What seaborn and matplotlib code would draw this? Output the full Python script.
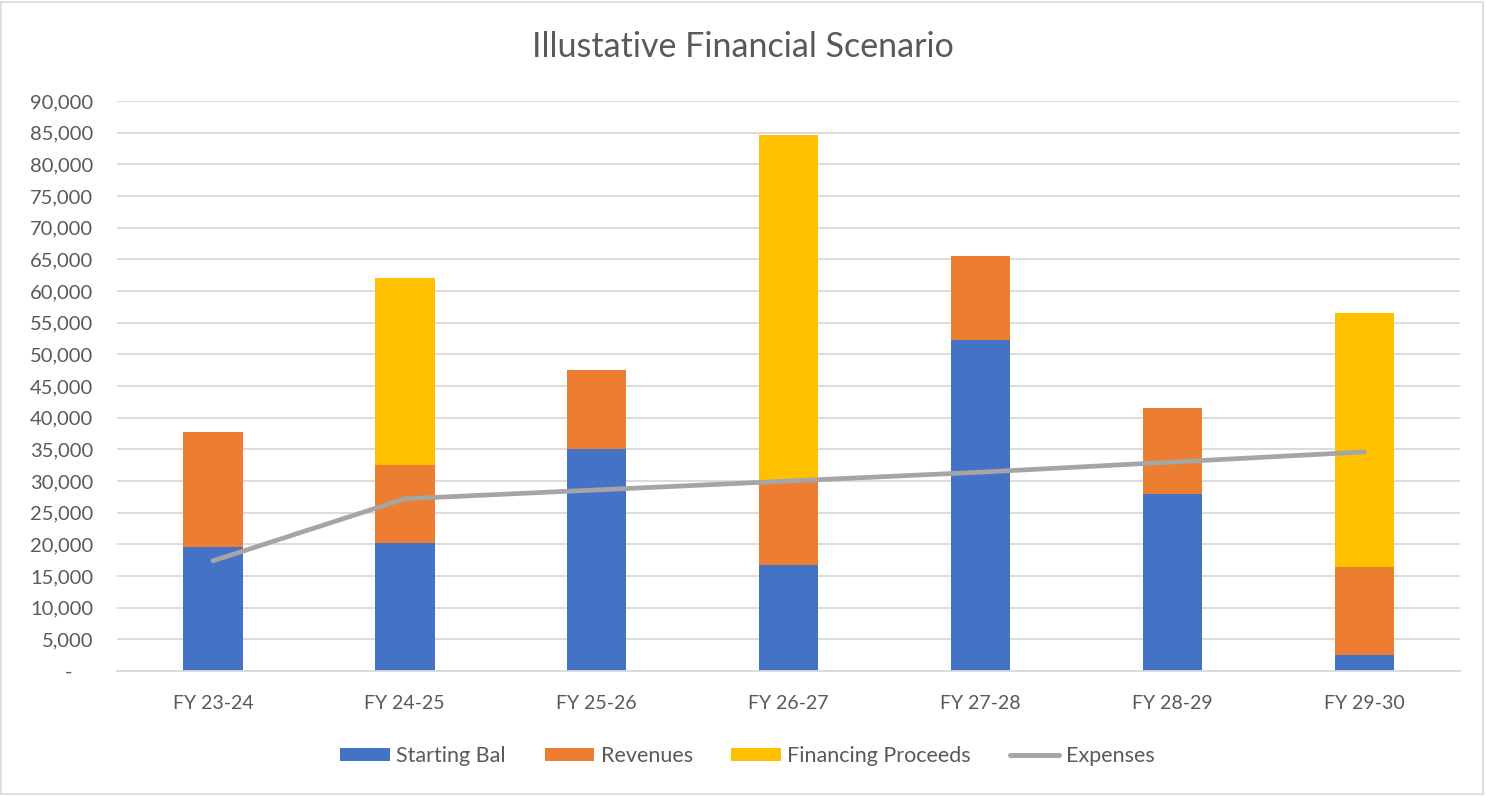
import matplotlib
matplotlib.use("Agg")
import matplotlib.pyplot as plt
import matplotlib.ticker as mticker
from matplotlib.patches import Patch
from matplotlib.lines import Line2D
import numpy as np
import seaborn as sns

# Fiscal years and stacked components
years = ["FY 23-24", "FY 24-25", "FY 25-26", "FY 26-27", "FY 27-28", "FY 28-29", "FY 29-30"]
starting_bal = [19600, 20200, 35000, 16700, 52300, 28000, 2500]
revenues = [18200, 12400, 12600, 13400, 13300, 13600, 14000]
financing = [0, 29500, 0, 54600, 0, 0, 40100]
expenses = [17400, 27200, 28600, 30000, 31400, 33000, 34600]

series_names = ["Starting Bal", "Revenues", "Financing Proceeds", "Expenses"]
colors = ["#4472C4", "#ED7D31", "#FFC000", "#A5A5A5"]
text_color = "#595959"
grid_color = "#D9D9D9"

sns.set_theme(style="white")
plt.rcParams["font.family"] = ["Lato", "DejaVu Sans"]

fig = plt.figure(figsize=(14.86, 7.96), dpi=100)
ax = fig.add_axes([0.0787, 0.157, 0.904, 0.716])

# Stacked bars: draw cumulative heights from the tallest layer down
bal = np.array(starting_bal)
lvl2 = bal + np.array(revenues)
lvl3 = lvl2 + np.array(financing)
bar_w = 0.31
for heights, col in [(lvl3, colors[2]), (lvl2, colors[1]), (bal, colors[0])]:
    sns.barplot(x=years, y=heights, color=col, saturation=1, width=bar_w,
                linewidth=0, ax=ax, zorder=2)

sns.lineplot(x=np.arange(len(years)), y=expenses, color=colors[3], lw=3.4,
             ax=ax, zorder=3, solid_capstyle="round", solid_joinstyle="round")

ax.set_xlim(-0.5, len(years) - 0.5)
ax.set_ylim(0, 90000)
ax.yaxis.set_major_locator(mticker.MultipleLocator(5000))
ax.yaxis.set_major_formatter(
    mticker.FuncFormatter(lambda v, p: f"{v:,.0f}" if v > 0 else "-    "))
ax.grid(axis="y", color=grid_color, lw=1.3, zorder=0)
ax.set_axisbelow(True)
for s in ["top", "right", "left"]:
    ax.spines[s].set_visible(False)
ax.spines["bottom"].set_color(grid_color)
ax.spines["bottom"].set_linewidth(1.3)
ax.set_xlabel("")
ax.set_ylabel("")
ax.tick_params(axis="y", length=0, pad=17, labelsize=14.5, labelcolor=text_color)
ax.tick_params(axis="x", length=0, pad=17, labelsize=14, labelcolor=text_color)

fig.text(0.5, 0.941, "Illustative Financial Scenario", ha="center", va="center",
         fontsize=24.5, color=text_color)

handles = [Patch(facecolor=c, edgecolor="none") for c in colors[:3]]
handles.append(Line2D([0], [0], color=colors[3], lw=3.6, solid_capstyle="round"))
fig.legend(handles, series_names, loc="center", bbox_to_anchor=(0.503, 0.05),
           ncol=4, frameon=False, fontsize=15.5, labelcolor=text_color,
           handlelength=2.3, handleheight=0.6, handletextpad=0.3, columnspacing=1.8)

fig.add_artist(plt.Rectangle((0.001, 0.002), 0.997, 0.996, transform=fig.transFigure,
                             fill=False, ec=grid_color, lw=1.2))

fig.savefig("out.png", dpi=100, facecolor="white")
